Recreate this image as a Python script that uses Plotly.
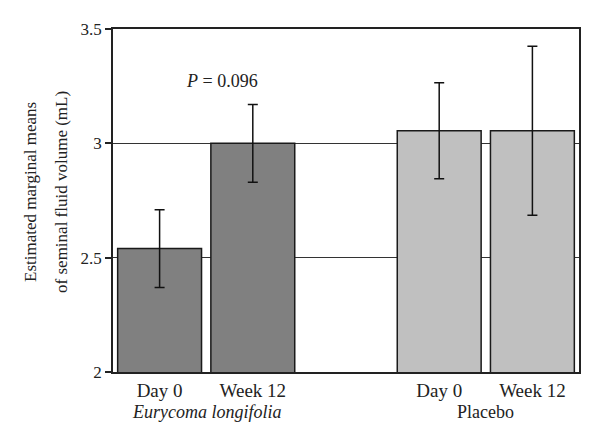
import plotly.graph_objects as go

# ---- data ----
groups = ["Eurycoma longifolia", "Placebo"]
timepoints = ["Day 0", "Week 12"]
el_means = [2.54, 3.00]
el_errors = [0.17, 0.17]
placebo_means = [3.055, 3.055]
placebo_errors = [0.21, 0.37]
y_ticks = [2, 2.5, 3, 3.5]
y_tick_labels = ["2", "2.5", "3", "3.5"]
y_title_lines = ["Estimated marginal means", "of seminal fluid volume (mL)"]
p_label = "P"
p_value = "0.096"

# category slots: two per group with one empty slot between groups
el_x = [0, 1]
pl_x = [3, 4]

FONT = "Liberation Serif"
TXT = "#222222"
fig = go.Figure()
fig.add_trace(go.Bar(
    x=el_x, y=el_means, width=0.9,
    marker=dict(color="#808080", line=dict(color="#1a1a1a", width=1.5)),
    error_y=dict(type="data", array=el_errors, color="#111111", thickness=1.5, width=5),
    showlegend=False,
))
fig.add_trace(go.Bar(
    x=pl_x, y=placebo_means, width=0.9,
    marker=dict(color="#c0c0c0", line=dict(color="#1a1a1a", width=1.5)),
    error_y=dict(type="data", array=placebo_errors, color="#111111", thickness=1.5, width=5),
    showlegend=False,
))

fig.update_layout(
    width=600, height=444,
    margin=dict(l=105, r=29, t=21, b=80),
    paper_bgcolor="white", plot_bgcolor="white",
    font=dict(family=FONT, size=17, color=TXT),
    xaxis=dict(
        range=[-0.5, 4.5],
        tickvals=el_x + pl_x,
        ticktext=timepoints + timepoints,
        showline=True, linecolor="#222222", linewidth=1.5, mirror=True,
        showgrid=False, ticks="", zeroline=False,
        tickfont=dict(family=FONT, size=19, color=TXT),
    ),
    yaxis=dict(
        range=[2, 3.5],
        tickvals=y_ticks, ticktext=y_tick_labels,
        showline=True, linecolor="#222222", linewidth=1.5, mirror=True,
        showgrid=True, gridcolor="#333333", gridwidth=1.2,
        ticks="outside", ticklen=6, tickcolor="#222222", tickwidth=1.5,
        zeroline=False,
        tickfont=dict(family=FONT, size=17, color=TXT),
    ),
    bargap=0.1,
)

# y-axis title (two rotated lines)
for line, shift in zip(y_title_lines, [-82, -51]):
    fig.add_annotation(
        x=0, y=0.525, xref="paper", yref="paper", xshift=shift,
        text=line, textangle=-90, showarrow=False,
        font=dict(family=FONT, size=17, color=TXT),
        xanchor="center", yanchor="middle",
    )

fig.add_annotation(
    x=(el_x[0] + el_x[1]) / 2, y=-0.118, xref="x", yref="paper",
    text="<i>" + groups[0] + "</i>", showarrow=False,
    font=dict(family=FONT, size=18, color=TXT), yanchor="middle",
)
fig.add_annotation(
    x=(pl_x[0] + pl_x[1]) / 2, y=-0.118, xref="x", yref="paper",
    text=groups[1], showarrow=False,
    font=dict(family=FONT, size=18, color=TXT), yanchor="middle",
)
fig.add_annotation(
    x=0.67, y=3.272, xref="x", yref="y",
    text="<i>" + p_label + "</i> = " + p_value, showarrow=False,
    font=dict(family=FONT, size=18, color=TXT), yanchor="middle",
)

fig.write_html("out.html")
